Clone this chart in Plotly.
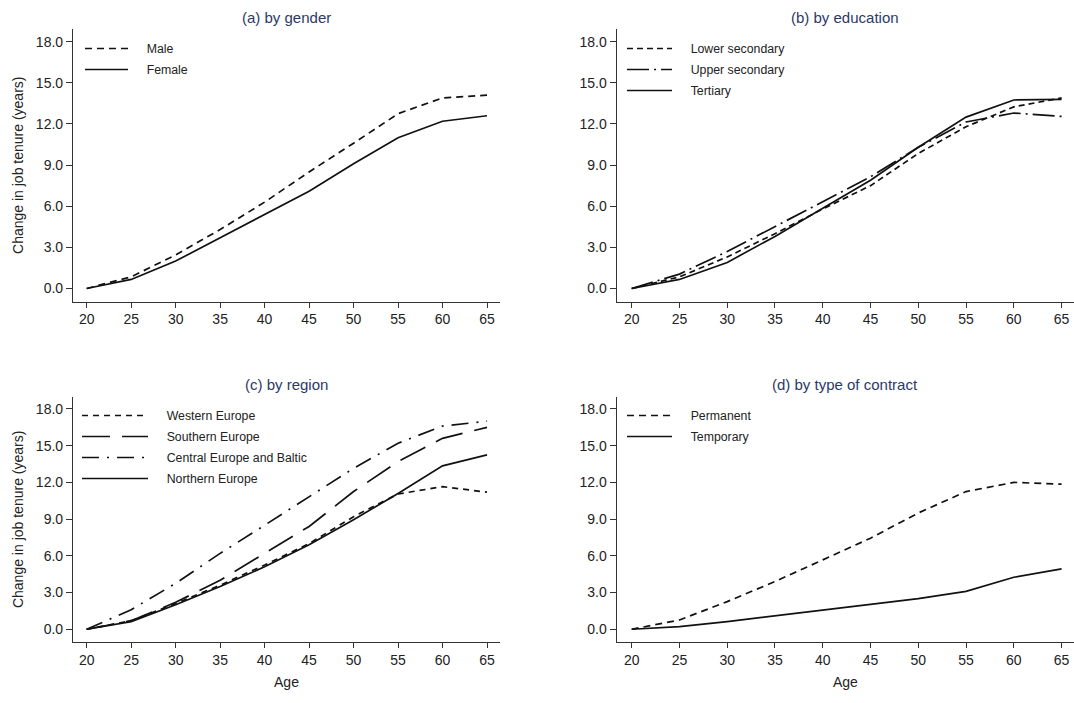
import plotly.graph_objects as go

ages = [20, 25, 30, 35, 40, 45, 50, 55, 60, 65]

# (a) by gender
male = [0.0, 0.85, 2.45, 4.3, 6.3, 8.5, 10.6, 12.75, 13.9, 14.1]
female = [0.0, 0.66, 2.0, 3.7, 5.45, 7.1, 9.1, 11.0, 12.2, 12.6]

# (b) by education
lower_sec = [0.0, 0.85, 2.3, 4.0, 5.8, 7.5, 9.85, 11.8, 13.25, 13.9]
upper_sec = [0.0, 1.05, 2.7, 4.5, 6.35, 8.15, 10.3, 12.15, 12.8, 12.55]
tertiary = [0.0, 0.66, 1.9, 3.8, 5.85, 7.9, 10.3, 12.5, 13.75, 13.8]

# (c) by region
western = [0.0, 0.7, 2.1, 3.6, 5.25, 7.0, 9.2, 11.05, 11.65, 11.2]
southern = [0.0, 0.7, 2.2, 4.0, 6.2, 8.4, 11.25, 13.7, 15.6, 16.5]
central = [0.0, 1.6, 3.75, 6.2, 8.5, 10.85, 13.15, 15.2, 16.6, 17.0]
northern = [0.0, 0.63, 2.0, 3.5, 5.1, 6.9, 8.95, 11.1, 13.35, 14.25]

# (d) by type of contract
permanent = [0.0, 0.76, 2.26, 3.9, 5.67, 7.44, 9.5, 11.25, 12.0, 11.85]
temporary = [0.0, 0.22, 0.63, 1.09, 1.58, 1.99, 2.5, 3.1, 4.25, 4.93]

x_ticks = [20, 25, 30, 35, 40, 45, 50, 55, 60, 65]
y_ticks = [0, 3, 6, 9, 12, 15, 18]
y_ticklabels = ["0.0", "3.0", "6.0", "9.0", "12.0", "15.0", "18.0"]

titles = ["(a) by gender", "(b) by education", "(c) by region", "(d) by type of contract"]

W, H = 1074, 703
FONT = "Liberation Sans, Arial, sans-serif"
LW = 1.7
GAP = "\u00a0\u00a0\u00a0\u00a0"  # spacing between legend sample and label

fig = go.Figure()

panels = [
    ("", "legend", [("Male", male, "7px,5px"), ("Female", female, "solid")]),
    ("2", "legend2", [("Lower secondary", lower_sec, "6px,4px"),
                      ("Upper secondary", upper_sec, "22px,5px,2px,5px"),
                      ("Tertiary", tertiary, "solid")]),
    ("3", "legend3", [("Western Europe", western, "6px,5px"),
                      ("Southern Europe", southern, "28px,12px"),
                      ("Central Europe and Baltic", central, "17px,8px,2px,8px"),
                      ("Northern Europe", northern, "solid")]),
    ("4", "legend4", [("Permanent", permanent, "7px,5px"), ("Temporary", temporary, "solid")]),
]

for suf, leg, series in panels:
    for name, vals, dash in series:
        fig.add_trace(go.Scatter(
            x=ages, y=vals, name=GAP + name, mode="lines", legendgroup=name,
            line=dict(color="#111111", width=LW, dash=dash),
            xaxis="x" + suf, yaxis="y" + suf, legend=leg,
            hovertemplate=name + ": %{y:.1f}<extra></extra>",
        ))

def px_x(p):
    return p / W

def px_y(p):
    return 1 - p / H

left_x = (73, 500)
right_x = (616.7, 1074)
top_y = (29, 301.5)
bot_y = (396.7, 642)

axis_common = dict(
    showline=True, linecolor="#333333", linewidth=1.2, mirror=False,
    ticks="outside", ticklen=5, tickwidth=1.2, tickcolor="#333333",
    showgrid=False, zeroline=False,
    tickfont=dict(family=FONT, size=14, color="#222222"),
)

layout_axes = {}
specs = [
    ("", left_x, top_y, [18.46, 66.46], [-0.95, 18.93], True, False),
    ("2", right_x, top_y, [18.43, 66.3], [-0.95, 18.93], False, False),
    ("3", left_x, bot_y, [18.46, 66.46], [-1.04, 19.0], True, True),
    ("4", right_x, bot_y, [18.43, 66.3], [-1.04, 19.0], False, True),
]
for suf, xd, yd, xr, yr, ytitle, xtitle in specs:
    xa = dict(axis_common)
    xa.update(domain=[px_x(xd[0]), min(1.0, px_x(xd[1]))], range=xr,
              tickvals=x_ticks, anchor="y" + suf)
    if xtitle:
        xa["title"] = dict(text="Age", font=dict(family=FONT, size=14, color="#222222"), standoff=10)
    ya = dict(axis_common)
    ya.update(domain=[px_y(yd[1]), px_y(yd[0])], range=yr,
              tickvals=y_ticks, ticktext=y_ticklabels, anchor="x" + suf, ticklen=6)
    if ytitle:
        ya["title"] = dict(text="Change in job tenure (years)",
                           font=dict(family=FONT, size=14, color="#222222"), standoff=8)
    layout_axes["xaxis" + suf] = xa
    layout_axes["yaxis" + suf] = ya

legend_common = dict(
    bgcolor="rgba(0,0,0,0)", borderwidth=0, xanchor="left", yanchor="top",
    font=dict(family=FONT, size=12.3, color="#222222"), itemwidth=43,
    tracegroupgap=2, itemclick=False, itemdoubleclick=False,
)
legends = {
    "legend": dict(legend_common, x=px_x(80), y=px_y(34)),
    "legend2": dict(legend_common, x=px_x(622), y=px_y(34), itemwidth=45),
    "legend3": dict(legend_common, x=px_x(77), y=px_y(401), itemwidth=66),
    "legend4": dict(legend_common, x=px_x(622), y=px_y(401), itemwidth=45),
}

annotations = []
title_pos = [
    ((left_x[0] + left_x[1]) / 2, 17),
    ((right_x[0] + right_x[1]) / 2, 17),
    ((left_x[0] + left_x[1]) / 2, 384),
    ((right_x[0] + right_x[1]) / 2, 384),
]
for t, (cx, cy) in zip(titles, title_pos):
    annotations.append(dict(
        text=t, x=px_x(cx), y=px_y(cy), xref="paper", yref="paper",
        xanchor="center", yanchor="middle", showarrow=False,
        font=dict(family=FONT, size=15, color="#2B3A67"),
    ))

fig.update_layout(
    width=W, height=H,
    margin=dict(l=0, r=0, t=0, b=0),
    paper_bgcolor="white", plot_bgcolor="white",
    font=dict(family=FONT, color="#222222"),
    annotations=annotations,
    showlegend=True,
    **layout_axes,
    **legends,
)

fig.write_html("out.html")
